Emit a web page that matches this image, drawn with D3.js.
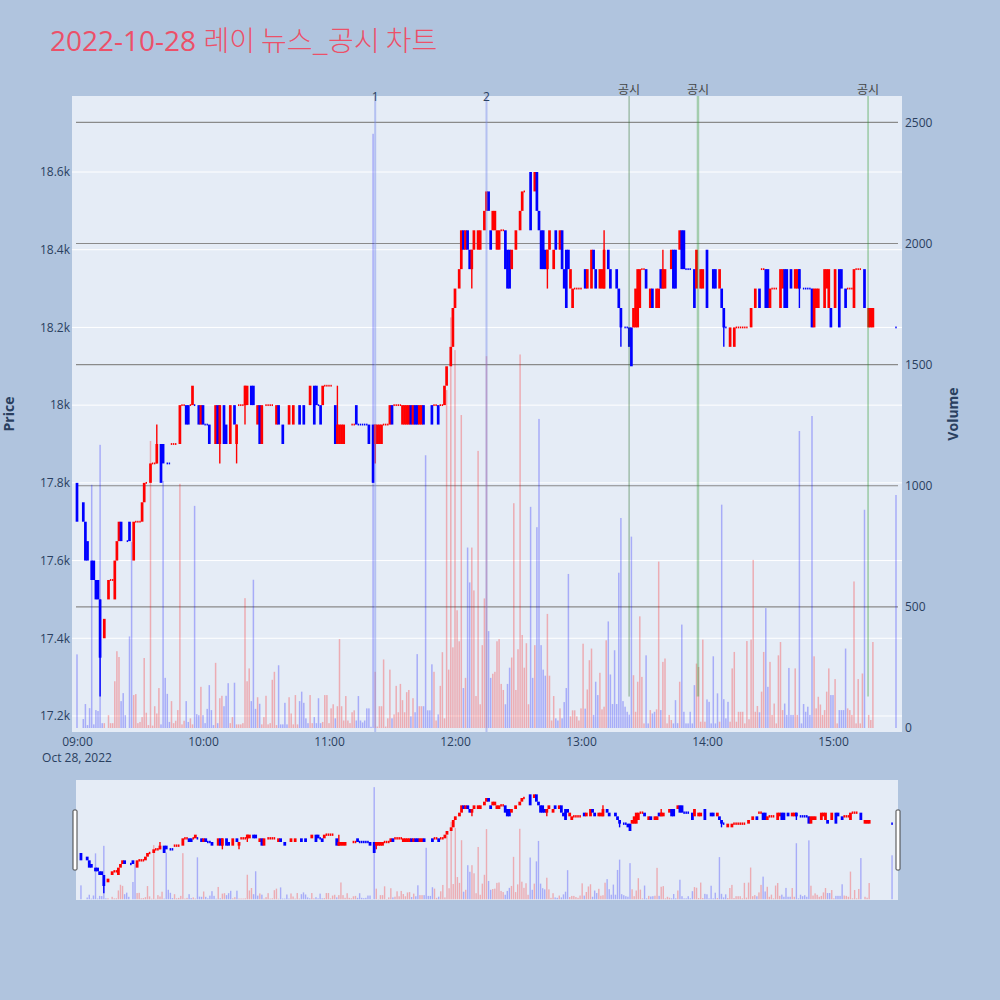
<!DOCTYPE html>
<html><head><meta charset="utf-8">
<script src="https://cdn.jsdelivr.net/npm/d3@7"></script>
<style>
body{margin:0;background:#b0c4de;}
svg{display:block;font-family:"Open Sans","Noto Sans CJK KR",sans-serif;}
</style>
</head><body>
<svg id="chart" width="1000" height="1000"></svg>
<script>
// ---------------- data (one entry per minute from 09:00) ----------------
const sessionStart = [2022, 9, 28, 9, 0];
const opens = [
17800,null,null,17750,17700,17650,null,17600,17600,17550,
17550,17500,null,17400,null,17500,17550,17550,17500,17600,
17650,17700,null,null,17650,17700,null,17600,17700,17700,
17700,17700,17750,17800,null,17800,17850,17850,17850,null,
17900,17900,null,17850,17850,17900,17900,17900,null,17900,
18000,18000,18000,18000,18000,18000,18000,null,18000,17950,
18000,17950,17950,17950,null,null,17900,18000,17900,null,
18000,17950,null,17900,null,18000,17900,18000,18000,18000,
18000,18000,null,18050,18050,null,17950,18000,17900,null,
18000,18000,18000,18000,null,17950,18000,null,17950,null,
null,17950,null,17950,null,null,18000,null,18000,null,
null,18000,null,18050,18050,18000,18000,18000,18050,18050,
18050,18050,null,18000,17900,17900,17900,17900,null,null,
null,17950,17950,18000,17950,17950,17950,17950,17950,17950,
null,17950,17900,17900,17900,17900,17950,17950,17950,17950,
18000,18000,18000,18000,18000,17950,17950,17950,17950,18000,
17950,18000,18000,17950,17950,18000,null,null,null,18000,
18000,18000,18000,18000,18000,18000,18050,null,18100,18150,
18250,null,18300,18350,18450,18400,18450,18400,18350,18400,
null,18400,18400,null,18450,18500,18550,18450,18450,18450,
18400,18400,18450,18450,18450,18400,18400,18350,null,18400,
null,18450,18500,18550,null,null,18600,null,18550,18600,
18500,18450,18450,18400,18350,18400,null,18350,18450,null,
18400,18450,18350,18400,18400,18300,18250,18300,18300,18300,
18300,null,18350,18300,null,18300,18400,18350,null,18300,
18300,18300,null,18400,18350,null,null,18350,18300,18250,
null,18200,18200,18200,18200,18200,18200,18200,18250,18350,
18350,18350,null,18250,18300,null,18250,18250,18350,18300,
18300,null,null,18350,18400,18400,null,18400,18450,18450,
18350,18350,18350,null,18350,18300,null,18300,18300,null,
18400,null,null,18350,18350,null,18300,18300,18250,18200,
null,18150,null,18150,18200,18200,18200,18200,18200,18200,
null,18200,null,18250,null,18300,18350,18350,18350,18350,
18250,18300,18300,18300,null,18250,18300,18350,18350,null,
18350,null,18300,18300,18350,null,18300,18300,18300,18300,
18300,18200,18250,18250,null,null,18250,18300,18250,18250,
null,18250,null,18350,18350,null,18300,18300,18300,18300,
18250,18350,18350,18350,null,18350,null,18200,18200,18200,
null,null,null,null,null,null,null,null,null,null,
18200];
const closes = [
17700,null,null,17700,17600,17600,null,17550,17550,17500,
17500,17350,null,17450,null,17550,17550,17550,17600,17650,
17700,17650,null,null,17650,17650,null,17700,17700,17700,
17700,17750,17800,17800,null,17850,17850,17850,17900,null,
17800,17850,null,17850,17850,17900,17900,17900,null,18000,
18000,18000,17950,17950,18000,18050,18000,null,17950,18000,
17950,17950,17950,17900,null,null,18000,17900,18000,null,
17900,17900,null,18000,null,17950,17950,18000,18000,18000,
18050,18050,null,18000,18000,null,18000,17900,18000,null,
18000,18000,18000,18000,null,18000,17950,null,17900,null,
null,18000,null,18000,null,null,17950,null,17950,null,
null,18050,null,17950,18000,18000,17950,18050,18050,18050,
18050,18050,null,17900,17950,17950,17950,17950,null,null,
null,17950,17950,17950,17950,17950,17950,17950,17950,17900,
null,17800,17950,17950,17950,17950,17950,17950,17950,18000,
17950,18000,18000,18000,18000,18000,18000,18000,18000,17950,
18000,17950,17950,18000,18000,17950,null,null,null,17950,
18000,18000,17950,18000,18000,18050,18100,null,18150,18250,
18300,null,18350,18450,18400,18450,18400,18350,18400,18450,
null,18450,18450,null,18500,18550,18500,18400,18500,18500,
18450,18450,18450,18450,18350,18300,18300,18400,null,18450,
null,18500,18550,18550,null,null,18450,null,18600,18500,
18450,18350,18350,18350,18400,18450,null,18400,18400,null,
18450,18350,18300,18250,18350,18350,18300,18300,18300,18300,
18300,null,18300,18350,null,18400,18350,18300,null,18350,
18350,18400,null,18350,18300,null,null,18300,18250,18200,
null,18200,18200,18150,18100,18250,18300,18350,18350,18350,
18350,18300,null,18300,18250,null,18300,18300,18300,18350,
18350,null,null,18400,18300,18300,null,18450,18350,18350,
18350,18350,18350,null,18250,18400,null,18350,18350,null,
18250,null,null,18300,18300,null,18350,18250,18200,18200,
null,18200,null,18200,18200,18200,18200,18200,18200,18200,
null,18250,null,18300,null,18250,18350,18350,18250,18250,
18300,18300,18300,18300,null,18350,18350,18250,18250,null,
18300,null,18350,18350,18300,null,18300,18300,18300,18300,
18200,18300,18300,18300,null,null,18350,18350,18350,18200,
null,18350,null,18200,18300,null,18250,18300,18300,18300,
18350,18350,18350,18350,null,18250,null,18250,18250,18250,
null,null,null,null,null,null,null,null,null,null,
18200];
// [minute, price] of visible wicks beyond the bodies
const highWicks = [[38,17950],[124,18050],[251,18450],[279,18400]];
const lowWicks = [[11,17250],[68,17850],[76,17850],[80,17950],[142,17850],[188,18300],[224,18300],[259,18150],[308,18150],[344,18250]];
const volumes = [
304,0,0,37,99,12,82,1004,15,74,
70,1169,20,20,0,53,20,20,193,317,
293,111,144,53,0,378,769,136,140,20,
25,45,289,63,12,1185,10,90,60,165,
15,1020,207,141,25,111,20,30,74,1008,
15,30,111,25,40,15,917,57,53,170,
53,20,79,177,74,12,269,20,123,133,
90,133,185,20,45,187,15,15,15,20,
536,193,246,111,612,79,127,100,15,45,
133,15,20,199,232,12,259,15,15,104,
15,127,60,15,136,15,111,150,104,40,
20,136,20,45,20,123,20,25,136,136,
20,81,98,40,90,367,90,31,132,31,
20,65,73,31,132,31,23,31,81,81,
5,2453,232,6,90,90,283,6,40,241,
40,56,174,65,182,115,65,148,157,48,
123,65,305,90,90,90,1126,73,73,263,
232,31,56,174,313,40,1395,241,1695,333,
1560,486,358,1292,165,207,745,601,745,568,
132,1144,98,342,535,1535,400,207,224,232,
358,367,182,157,98,182,249,291,928,157,
325,1542,384,249,350,98,913,207,342,829,
1276,342,241,216,471,216,31,132,40,31,
81,40,107,165,636,48,73,73,48,31,
81,348,80,159,280,328,54,191,136,228,
77,88,362,440,221,99,321,99,641,867,
111,88,67,55,790,218,67,191,461,211,
19,300,19,74,60,67,77,687,74,273,
287,19,54,33,19,115,20,191,427,67,
19,19,67,19,177,266,252,26,365,26,
118,108,19,296,19,143,26,922,119,40,
108,26,246,314,26,67,67,67,19,359,
36,365,694,67,91,65,150,314,495,170,
273,54,101,19,300,355,74,101,54,248,
54,54,246,54,1226,19,99,67,88,54,
1288,296,81,129,97,54,74,150,246,136,
136,202,19,74,74,74,328,81,74,54,
605,19,202,19,225,901,0,54,33,355,
0,0,0,0,0,0,0,0,0,0,
962];
const priceTicks = [17200,17400,17600,17800,18000,18200,18400,18600];
const volumeTicks = [0,500,1000,1500,2000,2500];
const hourTicks = [9,10,11,12,13,14,15];
const eventMinutes = [142,195];          // 11:22, 12:15
const eventLabels = ["1","2"];
const noticeMinutes = [262.9,295.7,376.7]; // 13:23, 13:56, 15:17
const noticeLabel = "공시";
const titleDate = "2022-10-28";
const titleText = "레이 뉴스_공시 차트";

// ---------------- layout ----------------
const svg = d3.select("#chart");
const P = {l:72, r:902, t:96, b:732};
const S = {l:76, r:898, t:780, b:900};
const t0 = new Date(sessionStart[0], sessionStart[1], sessionStart[2], sessionStart[3], sessionStart[4]);
const tAt = m => new Date(t0.getTime() + m*60000);
const xDomain = [tAt(-2.38), tAt(392.86)];
const priceDomain = [17158.8, 18795.6];
const volDomain = [-16.5, 2609];

const x = d3.scaleTime().domain(xDomain).range([P.l, P.r]);
const yP = d3.scaleLinear().domain(priceDomain).range([P.b, P.t]);
const yV = d3.scaleLinear().domain(volDomain).range([P.b, P.t]);
const xs = d3.scaleTime().domain(xDomain).range([S.l, S.r]);
const yPs = d3.scaleLinear().domain(priceDomain).range([S.b, S.t]);
const yVs = d3.scaleLinear().domain(volDomain).range([S.b, S.t]);

const UP = "#ff0000", DN = "#0000ff";
const UPV = "rgba(255,0,0,0.27)", DNV = "rgba(0,0,255,0.27)";

// direction (equal open/close compares with previous close)
const dir = [];
{ let prevC = null, inc = true;
  for (let i = 0; i < opens.length; i++) {
    if (opens[i] == null) { dir.push(null); continue; }
    const o = opens[i], c = closes[i];
    if (c === o) { if (prevC !== null && c !== prevC) inc = c > prevC; }
    else inc = c > o;
    prevC = c; dir.push(inc);
  }
}
const volDir = []; { let last = true; for (let i = 0; i < volumes.length; i++) { if (dir[i] != null) last = dir[i]; volDir.push(last); } }
const hiMap = new Map(highWicks), loMap = new Map(lowWicks);
const candles = opens.map((o, i) => o == null ? null : {
  i, t: tAt(i), o, c: closes[i], up: dir[i],
  h: hiMap.has(i) ? hiMap.get(i) : Math.max(o, closes[i]),
  l: loMap.has(i) ? loMap.get(i) : Math.min(o, closes[i])
}).filter(d => d);
const vols = volumes.map((v, i) => ({i, t: tAt(i), v, up: volDir[i]})).filter(d => d.v > 0);

// ---------------- backgrounds ----------------
svg.append("rect").attr("width", 1000).attr("height", 1000).attr("fill", "#b0c4de");
svg.append("rect").attr("x", P.l).attr("y", P.t).attr("width", P.r - P.l).attr("height", P.b - P.t).attr("fill", "#e5ecf6");
const defs = svg.append("defs");
defs.append("clipPath").attr("id", "clipMain").append("rect").attr("x", P.l).attr("y", P.t).attr("width", P.r - P.l).attr("height", P.b - P.t);
defs.append("clipPath").attr("id", "clipSlider").append("rect").attr("x", S.l).attr("y", S.t).attr("width", S.r - S.l).attr("height", S.b - S.t);

// title
const title = svg.append("text").attr("x", 50).attr("y", 51).attr("fill", "#ec5069").attr("font-size", 28);
title.append("tspan").attr("font-family", "'Open Sans'").text(titleDate + " ");
title.append("tspan").attr("font-family", "'Noto Sans CJK KR'").attr("font-size", 28).attr("font-weight", 300).text(titleText);

// ---------------- grid ----------------
const main = svg.append("g").attr("clip-path", "url(#clipMain)");
main.append("g").selectAll("line").data(priceTicks).join("line")
  .attr("x1", P.l).attr("x2", P.r).attr("y1", d => yP(d)).attr("y2", d => yP(d))
  .attr("stroke", "#ffffff").attr("stroke-width", 1);
main.append("g").selectAll("line").data(volumeTicks.filter(d => d > 0)).join("line")
  .attr("x1", 76).attr("x2", 898).attr("y1", d => yV(d)).attr("y2", d => yV(d))
  .attr("stroke", "#8a8a8a").attr("stroke-width", 1.2);

// ---------------- volume bars ----------------
main.append("g").selectAll("rect").data(vols).join("rect")
  .attr("x", d => x(d.t) - 0.75).attr("width", 1.5)
  .attr("y", d => yV(d.v)).attr("height", d => yV(0) - yV(d.v))
  .attr("fill", d => d.up ? UPV : DNV);

// ---------------- candles ----------------
function drawCandles(g, xsc, ysc, bw, fw, fh, ww) {
  g.selectAll("line.wick").data(candles.filter(d => d.h > Math.max(d.o, d.c) || d.l < Math.min(d.o, d.c))).join("line")
    .attr("class", "wick")
    .attr("x1", d => xsc(d.t)).attr("x2", d => xsc(d.t))
    .attr("y1", d => ysc(d.h)).attr("y2", d => ysc(d.l))
    .attr("stroke", d => d.up ? UP : DN).attr("stroke-width", ww);
  g.selectAll("rect.body").data(candles).join("rect")
    .attr("class", "body")
    .attr("x", d => xsc(d.t) - (d.o === d.c ? fw : bw) / 2)
    .attr("width", d => d.o === d.c ? fw : bw)
    .attr("y", d => d.o === d.c ? ysc(d.c) - fh / 2 : ysc(Math.max(d.o, d.c)))
    .attr("height", d => d.o === d.c ? fh : ysc(Math.min(d.o, d.c)) - ysc(Math.max(d.o, d.c)))
    .attr("fill", d => d.up ? UP : DN);
}
drawCandles(main.append("g"), x, yP, 2.7, 1.4, 1.8, 1.4);

// ---------------- event lines ----------------
main.append("g").selectAll("line").data(eventMinutes).join("line")
  .attr("x1", d => x(tAt(d))).attr("x2", d => x(tAt(d)))
  .attr("y1", P.t).attr("y2", P.b)
  .attr("stroke", "rgba(120,140,235,0.45)").attr("stroke-width", 2);
const noticeStyles = [["rgba(40,110,40,0.55)", 1], ["rgba(40,150,40,0.35)", 2.5], ["rgba(40,150,40,0.4)", 1.5]];
main.append("g").selectAll("line").data(noticeMinutes).join("line")
  .attr("x1", d => x(tAt(d))).attr("x2", d => x(tAt(d)))
  .attr("y1", P.t).attr("y2", yP(17250))
  .attr("stroke", (d, i) => noticeStyles[i][0]).attr("stroke-width", (d, i) => noticeStyles[i][1]);

svg.append("g").selectAll("text").data(eventMinutes).join("text")
  .attr("x", d => x(tAt(d))).attr("y", 101).attr("text-anchor", "middle")
  .attr("font-size", 12).attr("fill", "#2a3f5f").text((d, i) => eventLabels[i]);
svg.append("g").selectAll("text").data(noticeMinutes).join("text")
  .attr("x", d => x(tAt(d))).attr("y", 94).attr("text-anchor", "middle")
  .attr("font-size", 12).attr("fill", "#444").attr("font-family", "'Noto Sans CJK KR'").text(noticeLabel);

// ---------------- axes ----------------
const axL = svg.append("g").attr("transform", `translate(${P.l},0)`)
  .call(d3.axisLeft(yP).tickValues(priceTicks).tickSize(0).tickPadding(2).tickFormat(d => (d / 1000) + "k"));
const axR = svg.append("g").attr("transform", `translate(${P.r},0)`)
  .call(d3.axisRight(yV).tickValues(volumeTicks).tickSize(0).tickPadding(3).tickFormat(d3.format("d")));
const axB = svg.append("g").attr("transform", `translate(0,${P.b})`)
  .call(d3.axisBottom(x).tickValues(hourTicks.map(h => tAt((h - 9) * 60))).tickSize(0).tickPadding(5).tickFormat(d3.timeFormat("%H:%M")));
[axL, axR, axB].forEach(a => {
  a.select(".domain").remove();
  a.selectAll("text").attr("font-size", 12).attr("fill", "#2a3f5f").attr("font-family", "'Open Sans'");
});
svg.append("text").attr("x", x(t0)).attr("y", 762).attr("text-anchor", "middle")
  .attr("font-size", 12).attr("fill", "#2a3f5f").text(d3.timeFormat("%b %-d, %Y")(t0));

svg.append("text").attr("transform", "translate(14,414) rotate(-90)").attr("text-anchor", "middle")
  .attr("font-size", 14).attr("font-weight", "bold").attr("fill", "#2a3f5f").text("Price");
svg.append("text").attr("transform", "translate(958,414) rotate(-90)").attr("text-anchor", "middle")
  .attr("font-size", 14).attr("font-weight", "bold").attr("fill", "#2a3f5f").text("Volume");

// ---------------- range slider ----------------
svg.append("rect").attr("x", S.l).attr("y", S.t).attr("width", S.r - S.l).attr("height", S.b - S.t).attr("fill", "#e5ecf6");
const sl = svg.append("g").attr("clip-path", "url(#clipSlider)");
sl.append("g").selectAll("rect").data(vols).join("rect")
  .attr("x", d => xs(d.t) - 0.7).attr("width", 1.4)
  .attr("y", d => yVs(d.v)).attr("height", d => yVs(0) - yVs(d.v))
  .attr("fill", d => d.up ? UPV : DNV);
drawCandles(sl.append("g"), xs, yPs, 2.8, 1.6, 2.4, 1.4);
[[S.l - 3, 810], [S.r - 2, 810]].forEach(([hx, hy]) => {
  svg.append("rect").attr("x", hx).attr("y", hy).attr("width", 4).attr("height", 60)
    .attr("rx", 1).attr("fill", "#fff").attr("stroke", "#444").attr("stroke-width", 1);
});
</script>
</body></html>
